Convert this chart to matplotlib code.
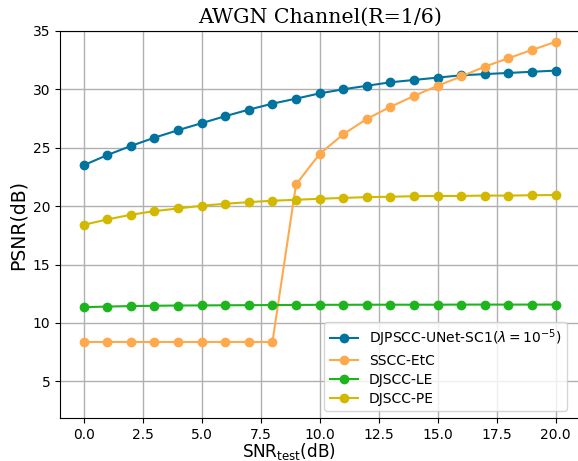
import matplotlib
matplotlib.use("Agg")
import matplotlib.pyplot as plt

snr = list(range(21))
djpscc = [23.5, 24.37, 25.15, 25.86, 26.5, 27.1, 27.7, 28.26, 28.77, 29.2, 29.65,
          30.0, 30.3, 30.6, 30.8, 31.0, 31.2, 31.3, 31.4, 31.5, 31.6]
sscc = [8.37, 8.37, 8.37, 8.37, 8.37, 8.37, 8.37, 8.37, 8.37, 21.86, 24.46,
        26.15, 27.46, 28.5, 29.43, 30.3, 31.1, 31.94, 32.66, 33.37, 34.06]
djscc_le = [11.35, 11.4, 11.44, 11.47, 11.49, 11.5, 11.51, 11.52, 11.53, 11.54, 11.55,
            11.55, 11.56, 11.56, 11.56, 11.56, 11.57, 11.57, 11.57, 11.57, 11.57]
djscc_pe = [18.4, 18.86, 19.26, 19.57, 19.8, 20.03, 20.2, 20.34, 20.46, 20.54, 20.63,
            20.7, 20.77, 20.8, 20.85, 20.87, 20.87, 20.9, 20.9, 20.93, 20.95]

fig = plt.figure(figsize=(5.78, 4.61), dpi=100)
ax = fig.add_axes([0.104, 0.093, 0.898, 0.840])
ax.plot(snr, djpscc, '-o', color='#00739f', label=r'DJPSCC-UNet-SC1($\lambda=10^{-5}$)', zorder=3)
ax.plot(snr, sscc, '-o', color='#ffa94d', label='SSCC-EtC', zorder=3)
ax.plot(snr, djscc_le, '-o', color='#1db41d', label='DJSCC-LE', zorder=3)
ax.plot(snr, djscc_pe, '-o', color='#d3b800', label='DJSCC-PE', zorder=3)
ax.set_xlim(-1, 21)
ax.set_ylim(1.85, 35)
ax.set_xticks([0, 2.5, 5, 7.5, 10, 12.5, 15, 17.5, 20])
ax.set_yticks([5, 10, 15, 20, 25, 30, 35])
ax.grid(True, color='#b0b0b0', linewidth=1.0)
ax.set_title('AWGN Channel(R=1/6)', fontfamily='DejaVu Serif', fontsize=14.8)
ax.set_xlabel(r'SNR$_{\rm test}$(dB)', fontsize=12.2)
ax.xaxis.set_label_coords(0.44, -0.059)
ax.set_ylabel('PSNR(dB)', fontsize=13.5)
ax.legend(loc='lower right', fontsize=10, labelspacing=0.35, bbox_to_anchor=(0.99, 0.0))
fig.savefig('out.png', dpi=100)
